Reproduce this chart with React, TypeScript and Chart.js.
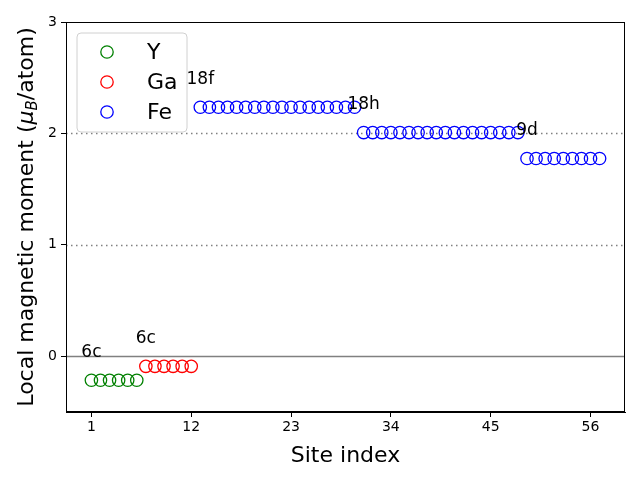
import React, { useEffect, useRef } from "react";
import { Chart, registerables } from "chart.js";
Chart.register(...registerables);

const FONT = "'DejaVu Sans', sans-serif";

const ySites = [1, 2, 3, 4, 5, 6];
const yMoments = [-0.215, -0.215, -0.215, -0.215, -0.215, -0.215];
const gaSites = [7, 8, 9, 10, 11, 12];
const gaMoments = [-0.09, -0.09, -0.09, -0.09, -0.09, -0.09];
const feSites = [
  13, 14, 15, 16, 17, 18, 19, 20, 21, 22, 23, 24, 25, 26, 27, 28, 29, 30,
  31, 32, 33, 34, 35, 36, 37, 38, 39, 40, 41, 42, 43, 44, 45, 46, 47, 48,
  49, 50, 51, 52, 53, 54, 55, 56, 57,
];
const feMoments = [
  2.235, 2.235, 2.235, 2.235, 2.235, 2.235, 2.235, 2.235, 2.235, 2.235, 2.235, 2.235, 2.235, 2.235, 2.235, 2.235, 2.235, 2.235,
  2.008, 2.008, 2.008, 2.008, 2.008, 2.008, 2.008, 2.008, 2.008, 2.008, 2.008, 2.008, 2.008, 2.008, 2.008, 2.008, 2.008, 2.008,
  1.775, 1.775, 1.775, 1.775, 1.775, 1.775, 1.775, 1.775, 1.775,
];

const xTicks = [1, 12, 23, 34, 45, 56];
const yTicks = [0, 1, 2, 3];

const wyckoffLabels = ["6c", "6c", "18f", "18h", "9d"];
const wyckoffX = [1, 7, 13, 31, 49];
const wyckoffY = [0.035, 0.16, 2.485, 2.258, 2.025];

const dottedLines = [1, 2];
const solidLines = [0];

const seriesNames = ["Y", "Ga", "Fe"];
const seriesColors = ["green", "red", "blue"];

const overlayPlugin = {
  id: "overlay",
  beforeDatasetsDraw(chart: any) {
    const { ctx, chartArea, scales } = chart;
    const ys = scales.y;
    ctx.save();
    ctx.beginPath();
    ctx.rect(chartArea.left, chartArea.top, chartArea.right - chartArea.left, chartArea.bottom - chartArea.top);
    ctx.clip();
    ctx.strokeStyle = "#808080";
    ctx.lineWidth = 1.5;
    for (const v of solidLines) {
      const py = Math.round(ys.getPixelForValue(v)) + 0.5;
      ctx.setLineDash([]);
      ctx.beginPath();
      ctx.moveTo(chartArea.left, py);
      ctx.lineTo(chartArea.right, py);
      ctx.stroke();
    }
    for (const v of dottedLines) {
      const py = Math.round(ys.getPixelForValue(v)) + 0.5;
      ctx.setLineDash([1.5, 3.5]);
      ctx.beginPath();
      ctx.moveTo(chartArea.left, py);
      ctx.lineTo(chartArea.right, py);
      ctx.stroke();
    }
    ctx.restore();
  },
  afterDatasetsDraw(chart: any) {
    const { ctx, chartArea, scales } = chart;
    const xs = scales.x;
    const ys = scales.y;
    ctx.save();
    // annotations
    ctx.fillStyle = "#000";
    ctx.font = `17px ${FONT}`;
    ctx.textAlign = "center";
    ctx.textBaseline = "middle";
    wyckoffLabels.forEach((t, i) => {
      ctx.fillText(t, xs.getPixelForValue(wyckoffX[i]), ys.getPixelForValue(wyckoffY[i]));
    });
    // frame
    ctx.strokeStyle = "#000";
    ctx.lineWidth = 1;
    ctx.setLineDash([]);
    ctx.strokeRect(chartArea.left + 0.5, chartArea.top + 0.5, chartArea.right - chartArea.left - 1, chartArea.bottom - chartArea.top - 1);
    // legend
    const bx = 77, by = 33, bw = 110, bh = 99, r = 4;
    ctx.beginPath();
    ctx.moveTo(bx + r, by);
    ctx.lineTo(bx + bw - r, by);
    ctx.quadraticCurveTo(bx + bw, by, bx + bw, by + r);
    ctx.lineTo(bx + bw, by + bh - r);
    ctx.quadraticCurveTo(bx + bw, by + bh, bx + bw - r, by + bh);
    ctx.lineTo(bx + r, by + bh);
    ctx.quadraticCurveTo(bx, by + bh, bx, by + bh - r);
    ctx.lineTo(bx, by + r);
    ctx.quadraticCurveTo(bx, by, bx + r, by);
    ctx.closePath();
    ctx.fillStyle = "rgba(255,255,255,0.8)";
    ctx.fill();
    ctx.strokeStyle = "#d0d0d0";
    ctx.stroke();
    ctx.font = `22px ${FONT}`;
    ctx.textAlign = "left";
    ctx.textBaseline = "middle";
    seriesNames.forEach((name, i) => {
      const cy = 52 + i * 30;
      ctx.beginPath();
      ctx.arc(107, cy, 6.2, 0, Math.PI * 2);
      ctx.strokeStyle = seriesColors[i];
      ctx.lineWidth = 1.3;
      ctx.stroke();
      ctx.fillStyle = "#000";
      ctx.fillText(name, 147, cy + 1);
    });
    // axis titles
    ctx.fillStyle = "#000";
    ctx.font = `22px ${FONT}`;
    ctx.textAlign = "center";
    ctx.textBaseline = "alphabetic";
    ctx.fillText("Site index", (chartArea.left + chartArea.right) / 2, 462);
    // y title with subscript
    ctx.translate(33, (chartArea.top + chartArea.bottom) / 2);
    ctx.rotate(-Math.PI / 2);
    const p1 = "Local magnetic moment (";
    const mu = "\u03bc";
    const sub = "B";
    const p2 = "/atom)";
    const f = `22px ${FONT}`;
    const fi = `italic 22px ${FONT}`;
    const fs = `italic 15px ${FONT}`;
    ctx.font = f;
    const w1 = ctx.measureText(p1).width;
    const w4 = ctx.measureText(p2).width;
    ctx.font = fi;
    const w2 = ctx.measureText(mu).width;
    ctx.font = fs;
    const w3 = ctx.measureText(sub).width;
    const total = w1 + w2 + w3 + w4;
    let x = -total / 2;
    ctx.textAlign = "left";
    ctx.font = f;
    ctx.fillText(p1, x, 0);
    x += w1;
    ctx.font = fi;
    ctx.fillText(mu, x, 0);
    x += w2;
    ctx.font = fs;
    ctx.fillText(sub, x, 4);
    x += w3;
    ctx.font = f;
    ctx.fillText(p2, x, 0);
    ctx.restore();
  },
};

export default function App() {
  const ref = useRef<HTMLCanvasElement>(null);
  useEffect(() => {
    if (!ref.current) return;
    const mk = (name: string, xsArr: number[], vals: number[], color: string) => ({
      label: name,
      data: xsArr.map((x, i) => ({ x, y: vals[i] })),
      borderColor: color,
      backgroundColor: "rgba(0,0,0,0)",
      pointRadius: 6.2,
      pointBorderWidth: 1.3,
      pointStyle: "circle",
      showLine: false,
    });
    const chart = new Chart(ref.current, {
      type: "scatter",
      data: {
        datasets: [
          mk(seriesNames[0], ySites, yMoments, seriesColors[0]),
          mk(seriesNames[1], gaSites, gaMoments, seriesColors[1]),
          mk(seriesNames[2], feSites, feMoments, seriesColors[2]),
        ],
      },
      options: {
        animation: false,
        responsive: false,
        maintainAspectRatio: false,
        layout: { padding: { left: 0, right: 15, top: 22, bottom: 0 } },
        plugins: { legend: { display: false }, tooltip: { enabled: false } },
        scales: {
          x: {
            type: "linear",
            min: -1.8,
            max: 59.8,
            afterBuildTicks: (s: any) => {
              s.ticks = xTicks.map((v) => ({ value: v }));
            },
            afterFit: (s: any) => {
              s.height = 68;
            },
            grid: { drawOnChartArea: false, color: "#000", tickLength: 5, tickWidth: 1 },
            border: { display: true, color: "#000" },
            ticks: { color: "#000", font: { family: FONT, size: 14 }, padding: 2, maxRotation: 0 },
          },
          y: {
            type: "linear",
            min: -0.5,
            max: 3,
            afterBuildTicks: (s: any) => {
              s.ticks = yTicks.map((v) => ({ value: v }));
            },
            afterFit: (s: any) => {
              s.width = 66;
            },
            grid: { drawOnChartArea: false, color: "#000", tickLength: 5, tickWidth: 1 },
            border: { display: true, color: "#000" },
            ticks: { color: "#000", font: { family: FONT, size: 14 }, padding: 4 },
          },
        },
      },
      plugins: [overlayPlugin],
    } as any);
    return () => chart.destroy();
  }, []);
  return (
    <div style={{ position: "absolute", left: 0, top: 0, width: 640, height: 480, background: "#fff" }}>
      <canvas ref={ref} width={640} height={480} style={{ width: 640, height: 480 }} />
    </div>
  );
}
